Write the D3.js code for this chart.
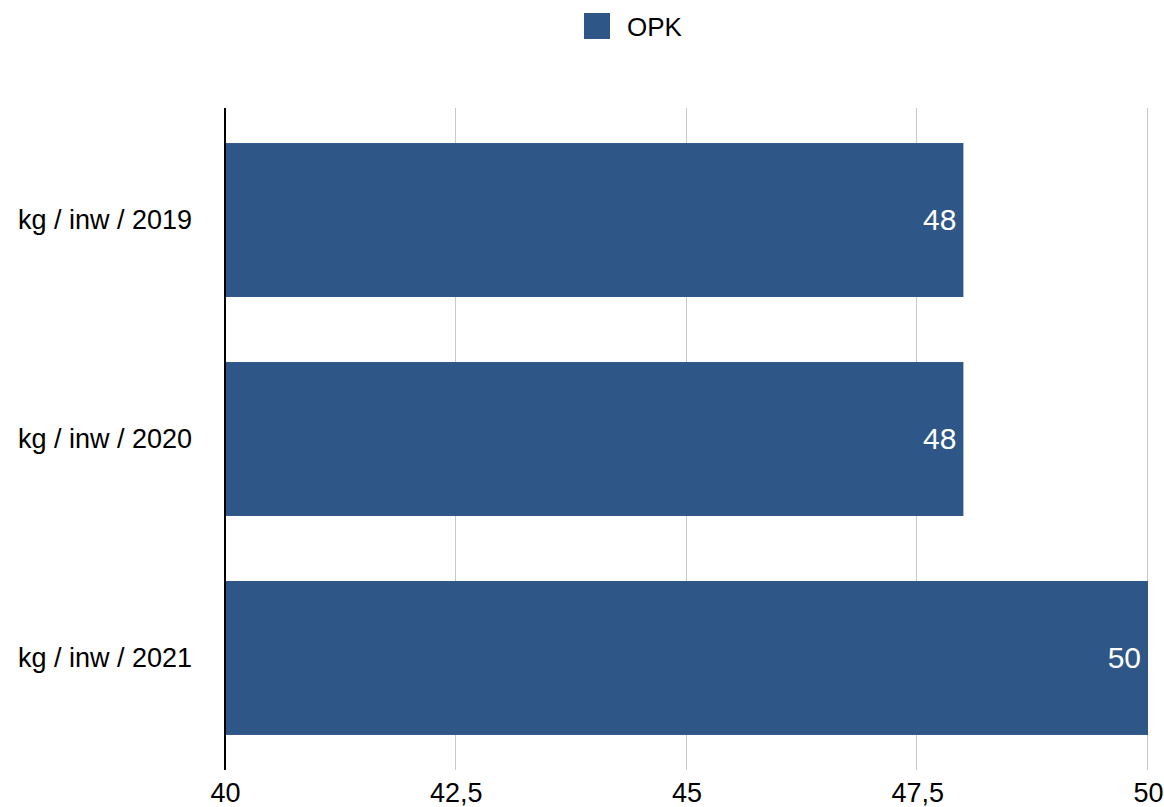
<!DOCTYPE html>
<html>
<head>
<meta charset="utf-8">
<script src="https://cdn.jsdelivr.net/npm/d3@7"></script>
<style>
  html, body { margin: 0; padding: 0; background: #fff; }
  svg { display: block; font-family: "Liberation Sans", Arial, Helvetica, sans-serif; }
</style>
</head>
<body>
<svg id="chart" width="1164" height="807"></svg>
<script>
const categories = ["kg / inw / 2019", "kg / inw / 2020", "kg / inw / 2021"];
const values = [48, 48, 50];
const seriesName = "OPK";
const tickValues = [40, 42.5, 45, 47.5, 50];
const tickLabels = ["40", "42,5", "45", "47,5", "50"];

(function () {
const color = "#2E5788";
const svg = d3.select("#chart");

const pLeft = 225, pRight = 1148, pTop = 108, pBottom = 770;

const x = d3.scaleLinear().domain([40, 50]).range([pLeft, pRight]);
const y = d3.scaleBand().domain(categories).range([pTop, pBottom])
  .paddingInner(0.297).paddingOuter(0.16);

// gridlines
svg.append("g").selectAll("line").data(tickValues.slice(1)).join("line")
  .attr("x1", d => Math.round(x(d)) - 0.5).attr("x2", d => Math.round(x(d)) - 0.5)
  .attr("y1", pTop).attr("y2", pBottom)
  .attr("stroke", "#c8c8c8").attr("stroke-width", 1);

// bars
svg.append("g").selectAll("rect").data(categories).join("rect")
  .attr("x", x(40))
  .attr("y", d => y(d))
  .attr("width", (d, i) => x(values[i]) - x(40))
  .attr("height", y.bandwidth())
  .attr("fill", color);

// value labels
svg.append("g").selectAll("text").data(categories).join("text")
  .attr("x", (d, i) => x(values[i]) - 7)
  .attr("y", d => y(d) + y.bandwidth() / 2 + 10)
  .attr("text-anchor", "end")
  .attr("fill", "#fff")
  .attr("font-size", 30)
  .text((d, i) => d3.format("d")(values[i]));

// y axis line
svg.append("line")
  .attr("x1", pLeft).attr("x2", pLeft)
  .attr("y1", pTop).attr("y2", pBottom)
  .attr("stroke", "#000").attr("stroke-width", 2);

// category labels
const yAxis = d3.axisLeft(y).tickSize(0).tickPadding(0);
const gy = svg.append("g").attr("transform", `translate(${192},0)`).call(yAxis);
gy.select(".domain").remove();
gy.selectAll("text")
  .attr("font-size", 27)
  .attr("font-family", "'Liberation Sans', Arial, Helvetica, sans-serif")
  .attr("fill", "#000")
  .attr("dy", "0.35em");

// x axis tick labels
const xAxis = d3.axisBottom(x).tickValues(tickValues).tickSize(0).tickPadding(0)
  .tickFormat((d, i) => tickLabels[i]);
const gx = svg.append("g").attr("transform", `translate(0,${pBottom})`).call(xAxis);
gx.select(".domain").remove();
gx.selectAll("text")
  .attr("font-size", 27)
  .attr("font-family", "'Liberation Sans', Arial, Helvetica, sans-serif")
  .attr("fill", "#000")
  .attr("dy", null)
  .attr("y", 32);

// legend
const lg = svg.append("g");
lg.append("rect").attr("x", 584).attr("y", 13).attr("width", 26).attr("height", 26).attr("fill", color);
lg.append("text").attr("x", 627).attr("y", 36).attr("font-size", 26).attr("fill", "#000").text(seriesName);
})();
</script>
</body>
</html>
